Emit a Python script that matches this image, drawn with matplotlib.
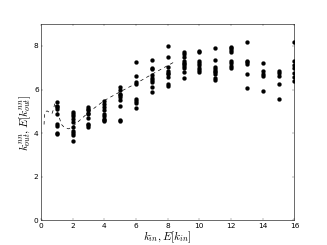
import matplotlib
matplotlib.use("Agg")
import matplotlib.pyplot as plt
import numpy as np

# observed k_out^nn for each in-degree k_in
k_in = [1, 2, 3, 4, 5, 6, 7, 8, 9, 10, 11, 12, 13, 14, 15, 16]
k_out_nn = [
    [5.44, 5.24, 5.18, 5.10, 4.90, 4.41, 4.34, 4.03, 3.95],
    [4.97, 4.86, 4.78, 4.67, 4.52, 4.29, 4.11, 4.02, 3.94, 3.62],
    [5.21, 5.13, 5.06, 4.93, 4.86, 4.72, 4.44, 4.37, 4.29],
    [5.46, 5.33, 5.21, 5.06, 4.90, 4.78, 4.67, 4.60, 4.54],
    [6.10, 5.98, 5.82, 5.75, 5.64, 5.52, 5.24, 4.60, 4.55],
    [7.26, 6.62, 6.33, 6.25, 5.55, 5.47, 5.39, 5.16],
    [7.36, 7.00, 6.96, 6.67, 6.51, 6.44, 6.36, 6.13, 5.88],
    [7.98, 7.51, 7.05, 6.87, 6.77, 6.71, 6.59, 6.24, 6.16],
    [7.74, 7.63, 7.51, 7.31, 7.23, 7.17, 7.08, 6.97, 6.80, 6.53],
    [7.77, 7.72, 7.31, 7.20, 7.11, 6.97, 6.90, 6.79],
    [7.92, 7.36, 7.05, 6.94, 6.87, 6.79, 6.71, 6.53, 6.44],
    [7.97, 7.89, 7.82, 7.74, 7.33, 7.20, 7.10, 7.00],
    [8.20, 7.33, 7.25, 7.17, 6.71, 6.05],
    [7.23, 6.87, 6.71, 6.62, 5.93],
    [6.85, 6.74, 6.62, 6.25, 5.58],
    [8.20, 7.31, 7.13, 6.97, 6.77, 6.59, 6.41],
]

# expected curve E[k_out^nn] vs E[k_in]
E_k_in = [0.20, 0.23, 0.30, 0.40, 0.55, 0.70, 0.80, 0.88, 1.00, 1.10, 1.30,
          1.50, 1.75, 2.00, 3.00, 4.00, 5.00, 6.00, 7.00, 8.00, 8.50]
E_k_out_nn = [4.40, 4.90, 5.00, 5.02, 4.95, 4.90, 5.10, 5.40, 5.10, 4.85, 4.40,
              4.25, 4.20, 4.30, 4.95, 5.50, 5.90, 6.28, 6.70, 7.10, 7.30]

plt.style.use("classic")
plt.rcParams["mathtext.fontset"] = "cm"

fig = plt.figure(figsize=(8, 6), dpi=40.9, facecolor="white")
ax = fig.add_subplot(111)

for k, vals in zip(k_in, k_out_nn):
    ax.plot([k] * len(vals), vals, "ko", markersize=7, markeredgecolor="k")

ax.plot(E_k_in, E_k_out_nn, "k--", linewidth=1.2)

ax.set_xlim(0, 16)
ax.set_ylim(0, 9)
ax.set_xticks(range(0, 17, 2))
ax.set_yticks(range(0, 9, 2))
ax.tick_params(labelsize=13)
ax.set_xlabel(r"$k_{in}, E[k_{in}]$", fontsize=20, labelpad=0)
ax.set_ylabel(r"$k_{out}^{nn}, E[k_{out}^{nn}]$", fontsize=20, labelpad=2)

fig.savefig("out.png", dpi=40.9, facecolor="white")
